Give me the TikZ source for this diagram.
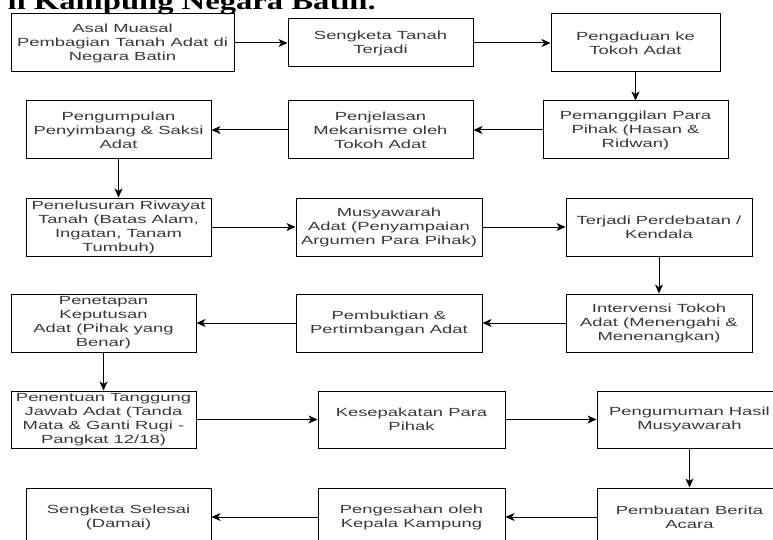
\documentclass[tikz,border=0pt]{standalone}
\usepackage{fontspec}
\newfontfamily\boxfont[FakeStretch=1.56]{Liberation Sans}
\newfontfamily\titlefont[FakeStretch=1.36]{Liberation Serif}
\usetikzlibrary{arrows.meta}
\definecolor{txt}{HTML}{383838}
\begin{document}
\begin{tikzpicture}[x=1pt,y=-1pt,
  box/.style={draw, line width=1pt, align=center, inner sep=0pt, minimum width=185pt, minimum height=58pt,
    font=\boxfont\fontsize{11.8}{14}\selectfont, text=txt},
  arr/.style={-{Stealth[length=9pt,width=8pt,inset=2.5pt]}, line width=1pt}]
\useasboundingbox (0,0) rectangle (773,540);
\clip (0,0) rectangle (773,540);
\node[anchor=base east, inner sep=0pt, font=\titlefont\bfseries\fontsize{24}{28}\selectfont] (title) at (376,10) {n Kampung Negara Batin.};
% row 1
\node[box, minimum width=223pt] (b1) at (122.5,43) {Asal Muasal\\Pembagian Tanah Adat di\\Negara Batin};
\node[box, minimum height=48pt] (b2) at (380.5,43) {Sengketa Tanah\\Terjadi};
\node[box, minimum width=169pt] (b3) at (635.5,43) {Pengaduan ke\\Tokoh Adat};
% row 2
\node[box] (b4) at (635.5,130) {Pemanggilan Para\\Pihak (Hasan \&\\Ridwan)};
\node[box] (b5) at (380.5,130) {Penjelasan\\Mekanisme oleh\\Tokoh Adat};
\node[box] (b6) at (118.5,130) {Pengumpulan\\Penyimbang \& Saksi\\Adat};
% row 3
\node[box] (b7) at (118.5,227) {Penelusuran Riwayat\\Tanah (Batas Alam,\\Ingatan, Tanam\\Tumbuh)};
\node[box, minimum width=186pt] (b8) at (389,227) {Musyawarah\\Adat (Penyampaian\\Argumen Para Pihak)};
\node[box, minimum width=186pt] (b9) at (659,227) {Terjadi Perdebatan /\\Kendala};
% row 4
\node[box, minimum width=186pt] (b10) at (659,323) {Intervensi Tokoh\\Adat (Menengahi \&\\Menenangkan)};
\node[box, minimum width=186pt] (b11) at (389,323) {Pembuktian \&\\Pertimbangan Adat};
\node[box] (b12) at (103.5,323) {Penetapan\\Keputusan\\Adat (Pihak yang\\Benar)};
% row 5
\node[box, minimum height=57pt] (b13) at (103.5,419.5) {Penentuan Tanggung\\Jawab Adat (Tanda\\Mata \& Ganti Rugi -\\Pangkat 12/18)};
\node[box, minimum height=57pt, minimum width=187pt] (b14) at (411.5,419.5) {Kesepakatan Para\\Pihak};
\node[box, minimum height=57pt] (b15) at (689.5,419.5) {Pengumuman Hasil\\Musyawarah};
% row 6
\node[box] (b16) at (689.5,517) {Pembuatan Berita\\Acara};
\node[box, minimum width=187pt] (b17) at (411.5,517) {Pengesahan oleh\\Kepala Kampung};
\node[box] (b18) at (118.5,517) {Sengketa Selesai\\(Damai)};
% connectors
\draw[arr] (b1) -- (b2);
\draw[arr] (b2) -- (b3);
\draw[arr] (b3) -- (b4);
\draw[arr] (b4) -- (b5);
\draw[arr] (b5) -- (b6);
\draw[arr] (b6) -- (b7);
\draw[arr] (b7) -- (b8);
\draw[arr] (b8) -- (b9);
\draw[arr] (b9) -- (b10);
\draw[arr] (b10) -- (b11);
\draw[arr] (b11) -- (b12);
\draw[arr] (b12) -- (b13);
\draw[arr] (b13) -- (b14);
\draw[arr] (b14) -- (b15);
\draw[arr] (b15) -- (b16);
\draw[arr] (b16) -- (b17);
\draw[arr] (b17) -- (b18);
\end{tikzpicture}
\end{document}
